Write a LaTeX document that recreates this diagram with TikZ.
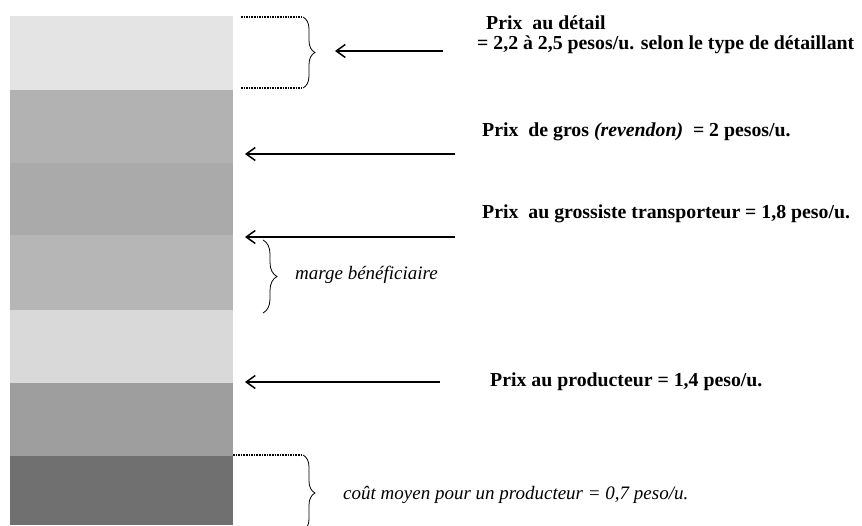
\documentclass[tikz,border=0pt]{standalone}
\usepackage{fontspec}
\setmainfont{Liberation Serif}
\usetikzlibrary{arrows.meta,decorations.pathreplacing}
\definecolor{bandA}{HTML}{E4E4E4}
\definecolor{bandB}{HTML}{B2B2B2}
\definecolor{bandC}{HTML}{AAAAAA}
\definecolor{bandD}{HTML}{B6B6B6}
\definecolor{bandE}{HTML}{D9D9D9}
\definecolor{bandF}{HTML}{9E9E9E}
\definecolor{bandG}{HTML}{707070}
\begin{document}
\begin{tikzpicture}[x=1pt,y=-1pt,
 ptr/.style={line width=1.5pt,-{Straight Barb[length=9pt,width=13pt,line width=1.5pt]}},
 lbl/.style={font=\fontsize{19.8}{24}\selectfont\bfseries,anchor=base west,inner sep=0pt},
 note/.style={font=\fontsize{19}{24}\selectfont\itshape,anchor=base west,inner sep=0pt},
 brc/.style={decorate,decoration={brace,amplitude=12pt},line width=0.8pt},
 dotln/.style={densely dotted,line width=1.6pt}]
\useasboundingbox (0,0) rectangle (862,525);
\clip (0,0) rectangle (862,525);
% bands
\fill[bandA] (10,16) rectangle (233,90);
\fill[bandB] (10,90) rectangle (233,163);
\fill[bandC] (10,163) rectangle (233,235);
\fill[bandD] (10,235) rectangle (233,310);
\fill[bandE] (10,310) rectangle (233,383);
\fill[bandF] (10,383) rectangle (233,456);
\fill[bandG] (10,456) rectangle (233,525);
% top brace
\coordinate (tb1) at (241,17);
\coordinate (tb2) at (303,17);
\coordinate (tb3) at (303,88);
\coordinate (tb4) at (241,88);
\draw[dotln] (tb1) -- (tb2);
\draw[dotln] (tb4) -- (tb3);
\draw[brc] (tb2) -- (tb3);
% bottom brace
\coordinate (bb1) at (233,455);
\coordinate (bb2) at (303,455);
\coordinate (bb3) at (303,531);
\draw[dotln] (bb1) -- (bb2);
\draw[brc] (bb2) -- (bb3);
% marge brace
\coordinate (mb1) at (263,240);
\coordinate (mb2) at (263,313);
\draw[brc,decoration={amplitude=14pt}] (mb1) -- (mb2);
% arrows
\coordinate (a1s) at (443,51);
\coordinate (a1e) at (335,51);
\coordinate (a2s) at (455,154);
\coordinate (a2e) at (245,154);
\coordinate (a3s) at (455,237);
\coordinate (a3e) at (245,237);
\coordinate (a4s) at (440,382);
\coordinate (a4e) at (245,382);
\draw[ptr] (a1s) -- (a1e);
\draw[ptr] (a2s) -- (a2e);
\draw[ptr] (a3s) -- (a3e);
\draw[ptr] (a4s) -- (a4e);
% texts
\node[lbl] (t1) at (486,29) {Prix\ \ au détail};
\node[lbl] (t1b) at (477,49) {= 2,2 à 2,5 pesos/u. selon le type de détaillant};
\node[lbl] (t2) at (482,136) {Prix\ \ de gros \textit{(revendon)}\ \ = 2 pesos/u.};
\node[lbl] (t3) at (482,218) {Prix\ \ au grossiste transporteur = 1,8 peso/u.};
\node[lbl] (t4) at (490,386) {Prix au producteur = 1,4 peso/u.};
\node[note] (m) at (295,279) {marge bénéficiaire};
\node[note] (c) at (343,499) {coût moyen pour un producteur = 0,7 peso/u.};
\end{tikzpicture}
\end{document}
